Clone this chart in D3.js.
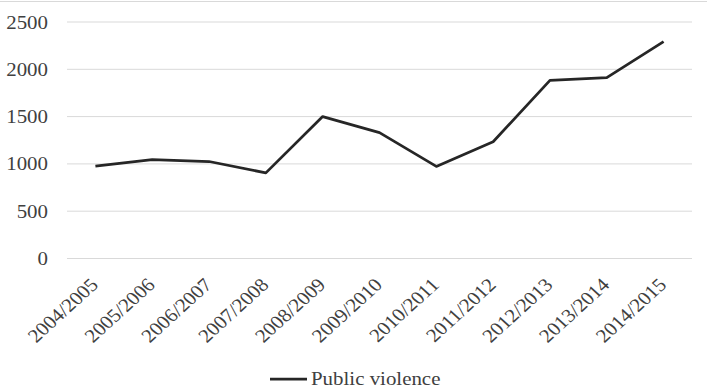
<!DOCTYPE html>
<html>
<head>
<meta charset="utf-8">
<script src="https://cdn.jsdelivr.net/npm/d3@7"></script>
<style>
  html, body { margin: 0; padding: 0; background: #fff; }
  svg { display: block; }
</style>
</head>
<body>
<svg id="chart" width="707" height="392"></svg>
<script>
// Reported public violence incidents per financial year
const years = ["2004/2005", "2005/2006", "2006/2007", "2007/2008", "2008/2009",
               "2009/2010", "2010/2011", "2011/2012", "2012/2013", "2013/2014", "2014/2015"];
const publicViolence = [970, 1040, 1020, 900, 1495, 1325, 968, 1229, 1878, 1906, 2287];
const yTicks = [0, 500, 1000, 1500, 2000, 2500];
const seriesName = "Public violence";

const W = 707, H = 392;
const margin = { left: 67, right: 15, top: 21.5, bottom: 134 };
const fontSize = 19, stretch = 1.1;
const serif = "'Liberation Serif', 'Times New Roman', Times, 'DejaVu Serif', serif";
const textColor = "#404040";

const svg = d3.select("#chart");

// thin frame line along the top edge
svg.append("line")
  .attr("x1", 0).attr("x2", W).attr("y1", 1.5).attr("y2", 1.5)
  .attr("stroke", "#d9d9d9").attr("stroke-width", 1);

const x = d3.scaleBand().domain(years).range([margin.left, W - margin.right]);
const y = d3.scaleLinear().domain([0, 2500]).range([H - margin.bottom, margin.top]);
const cx = d => x(d) + x.bandwidth() / 2;

// horizontal gridlines and value labels
const yAxis = svg.append("g")
  .attr("transform", `translate(${margin.left},0)`)
  .call(d3.axisLeft(y).tickValues(yTicks).tickSize(-(W - margin.right - margin.left)).tickPadding(0).tickFormat(d3.format("d")));
yAxis.select(".domain").remove();
yAxis.selectAll(".tick line").attr("stroke", "#d9d9d9").attr("stroke-width", 1);
yAxis.selectAll(".tick text").remove();
yAxis.selectAll(".tick").append("text")
  .attr("text-anchor", "end")
  .attr("transform", `translate(-19,6.5) scale(${stretch},1)`)
  .attr("font-family", serif)
  .attr("font-size", fontSize)
  .attr("fill", textColor)
  .text(d => d);

// category labels, slanted
const xAxis = svg.append("g");
xAxis.selectAll("text")
  .data(years)
  .join("text")
  .attr("text-anchor", "end")
  .attr("font-family", serif)
  .attr("font-size", fontSize)
  .attr("fill", textColor)
  .attr("transform", d => `translate(${cx(d) + 4},${y(0) + 28}) scale(${stretch},1) rotate(-45)`)
  .text(d => d);

// the series line
const line = d3.line().x((d, i) => cx(years[i])).y(d => y(d));
svg.append("path")
  .datum(publicViolence)
  .attr("d", line)
  .attr("fill", "none")
  .attr("stroke", "#262626")
  .attr("stroke-width", 2.75)
  .attr("stroke-linejoin", "round");

// legend
const lg = svg.append("g").attr("transform", "translate(270,379)");
lg.append("line").attr("x1", 0).attr("x2", 37).attr("y1", 0).attr("y2", 0)
  .attr("stroke", "#262626").attr("stroke-width", 2.75);
lg.append("text")
  .attr("transform", `translate(41,5.5) scale(${stretch},1)`)
  .attr("font-family", serif)
  .attr("font-size", fontSize)
  .attr("fill", textColor)
  .text(seriesName);
</script>
</body>
</html>
